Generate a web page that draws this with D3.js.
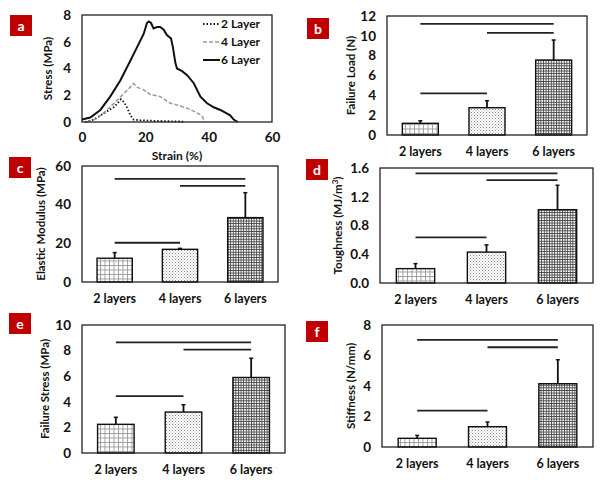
<!DOCTYPE html>
<html lang="en">
<head>
<meta charset="UTF-8">
<title>Layer mechanics</title>
<script src="https://d3js.org/d3.v7.min.js"></script>
<style>
  body { margin: 0; background: #fff; }
  text { font-family: Lato, "Open Sans", sans-serif; fill: #111; }
</style>
</head>
<body>
<script>
// ---- data ----
const categories = ["2 layers", "4 layers", "6 layers"];

// panel a: stress-strain curves [strain %, stress MPa]
const curve2 = [[1,0],[3.7,0.18],[6.8,0.63],[10,1.1],[11.6,1.5],[12.3,1.7],[13.2,1.5],[14.2,1.1],[15.3,0.5],[16.3,0.18],[18.4,0.13],[23.7,0.08],[32,0.03]];
const curve4 = [[1.6,0],[4.7,0.25],[7.9,0.9],[11,1.6],[13.7,2.25],[15.8,2.75],[16.3,2.88],[17.4,2.6],[19.5,2.4],[21.6,2.05],[24.7,1.9],[27.9,1.4],[31.1,1.2],[34.2,0.93],[37.4,0.55],[38.2,0.33],[38.6,0]];
const curve6 = [[0,0.18],[2.6,0.33],[5.8,0.9],[8.9,1.9],[12.1,3.1],[15.3,4.6],[17.4,5.6],[19.5,6.6],[20.5,7.4],[21.1,7.52],[21.8,7.4],[22.6,7.0],[23.7,7.1],[24.7,7.1],[25.8,6.9],[26.8,6.5],[28.1,6.25],[28.7,5.6],[29.5,4.4],[30,4.0],[31.6,3.8],[33.2,3.5],[35.3,2.9],[37.4,1.9],[39.5,1.4],[41.6,1.1],[43.7,0.9],[46.8,0.5],[47.9,0.18],[49.2,0]];
const curveNames = ["2 Layer", "4 Layer", "6 Layer"];
const strainTicks = [0, 20, 40, 60];
const stressTicks = [0, 2, 4, 6, 8];

// bar panels: means, upper error, significance bars [from, to, level]
const failureLoad = [1.18, 2.75, 7.56];
const failureLoadErr = [0.26, 0.71, 2.02];
const failureLoadSig = [[0, 2, 11.2], [1, 2, 10.3], [0, 1, 4.2]];

const elasticModulus = [12.3, 16.9, 33.3];
const elasticModulusErr = [2.9, 0.5, 12.9];
const elasticModulusSig = [[0, 2, 53.3], [1, 2, 49.7], [0, 1, 20.3]];

const toughness = [0.2, 0.43, 1.02];
const toughnessErr = [0.07, 0.1, 0.34];
const toughnessSig = [[0, 2, 1.525], [1, 2, 1.43], [0, 1, 0.635]];

const failureStress = [2.24, 3.2, 5.9];
const failureStressErr = [0.55, 0.57, 1.5];
const failureStressSig = [[0, 2, 8.65], [1, 2, 8.07], [0, 1, 4.45]];

const stiffness = [0.57, 1.33, 4.15];
const stiffnessErr = [0.19, 0.31, 1.57];
const stiffnessSig = [[0, 2, 7.03], [1, 2, 6.54], [0, 1, 2.38]];

// ---- svg ----
const svg = d3.select("body").append("svg")
    .attr("width", 600)
    .attr("height", 480);

const defs = svg.append("defs");

// fill patterns for the three layer counts
const p2 = defs.append("pattern").attr("id", "pat0")
    .attr("patternUnits", "userSpaceOnUse").attr("width", 4.5).attr("height", 4.5);
p2.append("rect").attr("width", 4.5).attr("height", 4.5).attr("fill", "#fff");
p2.append("path").attr("d", "M0,0.5H4.5M0.5,0V4.5").attr("stroke", "#999").attr("stroke-width", 0.9);

const p4 = defs.append("pattern").attr("id", "pat1")
    .attr("patternUnits", "userSpaceOnUse").attr("width", 3).attr("height", 3);
p4.append("rect").attr("width", 3).attr("height", 3).attr("fill", "#fff");
p4.append("rect").attr("x", 0).attr("y", 0).attr("width", 1).attr("height", 1).attr("fill", "#888");
p4.append("rect").attr("x", 1.5).attr("y", 1.5).attr("width", 1).attr("height", 1).attr("fill", "#aaa");

const p6 = defs.append("pattern").attr("id", "pat2")
    .attr("patternUnits", "userSpaceOnUse").attr("width", 2.6).attr("height", 2.6);
p6.append("rect").attr("width", 2.6).attr("height", 2.6).attr("fill", "#fff");
p6.append("path").attr("d", "M0,0.5H2.6M0.5,0V2.6").attr("stroke", "#444").attr("stroke-width", 0.9);

function panelLabel(letter, x, y) {
    svg.append("rect").attr("x", x).attr("y", y)
        .attr("width", 22).attr("height", 21).attr("fill", "#c00000");
    svg.append("text").attr("x", x + 11).attr("y", y + 15.5)
        .attr("text-anchor", "middle")
        .style("fill", "#fff").style("font-weight", 700).style("font-size", "14px")
        .text(letter);
}

function yAxisTitle(g, text, x, h, sup) {
    const t = g.append("text")
        .attr("transform", `translate(${x},${h / 2}) rotate(-90)`)
        .attr("text-anchor", "middle")
        .style("font-size", "11.5px").style("font-weight", 700)
        .text(text);
    if (sup) {
        t.append("tspan").attr("dy", -4).style("font-size", "8px").text(sup);
        t.append("tspan").attr("dy", 4).text(")");
    }
}

function frame(g, w, h) {
    g.append("rect").attr("width", w).attr("height", h)
        .attr("fill", "none").attr("stroke", "#222").attr("stroke-width", 1.3);
}

// ---- panel a ----
(function () {
    const m = { left: 82, top: 15, w: 190, h: 107 };
    const g = svg.append("g").attr("transform", `translate(${m.left},${m.top})`);
    const x = d3.scaleLinear().domain([0, 60]).range([0, m.w]);
    const y = d3.scaleLinear().domain([0, 8]).range([m.h, 0]);

    g.append("g").attr("transform", `translate(0,${m.h})`)
        .call(d3.axisBottom(x).tickValues(strainTicks).tickSize(0).tickPadding(10))
        .call(a => a.select(".domain").remove())
        .selectAll("text").style("font-size", "13.5px").style("font-weight", 700);
    g.append("g")
        .call(d3.axisLeft(y).tickValues(stressTicks).tickSize(0).tickPadding(11))
        .call(a => a.select(".domain").remove())
        .selectAll("text").style("font-size", "13.5px").style("font-weight", 700);

    const line = d3.line().x(d => x(d[0])).y(d => y(d[1]));
    const styles = [
        { stroke: "#111", dash: "1.5,2", width: 1.8 },
        { stroke: "#999", dash: "4,2", width: 1.5 },
        { stroke: "#111", dash: null, width: 2 }
    ];
    [curve2, curve4, curve6].forEach((c, i) => {
        g.append("path").datum(c).attr("d", line)
            .attr("fill", "none").attr("stroke", styles[i].stroke)
            .attr("stroke-width", styles[i].width)
            .attr("stroke-dasharray", styles[i].dash);
    });

    // legend
    curveNames.forEach((n, i) => {
        const ly = 9 + i * 18;
        g.append("line").attr("x1", 121).attr("x2", 138).attr("y1", ly).attr("y2", ly)
            .attr("stroke", styles[i].stroke).attr("stroke-width", styles[i].width)
            .attr("stroke-dasharray", styles[i].dash);
        g.append("text").attr("x", 139).attr("y", ly + 4)
            .style("font-size", "12px").style("font-weight", 700).text(n);
    });

    frame(g, m.w, m.h);
    yAxisTitle(g, "Stress (MPa)", -30, m.h);
    g.append("text").attr("x", 95).attr("y", m.h + 38)
        .attr("text-anchor", "middle")
        .style("font-size", "12px").style("font-weight", 700).text("Strain (%)");
    panelLabel("a", 10, 15);
})();

// ---- bar panels ----
function barPanel(cfg) {
    const g = svg.append("g").attr("transform", `translate(${cfg.left},${cfg.top})`);
    const x = d3.scaleBand().domain(categories).range([0, cfg.w])
        .paddingInner(0.46).paddingOuter(0.23);
    const y = d3.scaleLinear().domain([0, cfg.max]).range([cfg.h, 0]);

    g.append("g")
        .call(d3.axisLeft(y).tickValues(d3.range(0, cfg.max + cfg.step / 2, cfg.step))
            .tickFormat(cfg.fmt ? d3.format(cfg.fmt) : d3.format("d"))
            .tickSize(0).tickPadding(11))
        .call(a => a.select(".domain").remove())
        .selectAll("text").style("font-size", "13.5px").style("font-weight", 700);

    g.append("g").attr("transform", `translate(0,${cfg.h})`)
        .call(d3.axisBottom(x).tickSize(0).tickPadding(12))
        .call(a => a.select(".domain").remove())
        .selectAll("text").style("font-size", "12.5px").style("font-weight", 700);

    // error bars (upper only)
    g.selectAll(".err").data(cfg.values).enter().append("g")
        .each(function (d, i) {
            const cx = x(categories[i]) + x.bandwidth() / 2;
            const s = d3.select(this);
            s.append("line").attr("x1", cx).attr("x2", cx)
                .attr("y1", y(d)).attr("y2", y(d + cfg.err[i]))
                .attr("stroke", "#111").attr("stroke-width", 1.8);
            s.append("line").attr("x1", cx - 2).attr("x2", cx + 2)
                .attr("y1", y(d + cfg.err[i])).attr("y2", y(d + cfg.err[i]))
                .attr("stroke", "#111").attr("stroke-width", 1.5);
        });

    g.selectAll(".bar").data(cfg.values).enter().append("rect")
        .attr("x", (d, i) => x(categories[i]))
        .attr("y", d => y(d))
        .attr("width", x.bandwidth())
        .attr("height", d => cfg.h - y(d))
        .attr("fill", (d, i) => `url(#pat${i})`)
        .attr("stroke", "#111").attr("stroke-width", 1.4);

    // significance lines
    g.selectAll(".sig").data(cfg.sig).enter().append("line")
        .attr("x1", d => x(categories[d[0]]) + x.bandwidth() / 2)
        .attr("x2", d => x(categories[d[1]]) + x.bandwidth() / 2)
        .attr("y1", d => y(d[2])).attr("y2", d => y(d[2]))
        .attr("stroke", "#222").attr("stroke-width", 1.8);

    frame(g, cfg.w, cfg.h);
    yAxisTitle(g, cfg.title, cfg.titleX, cfg.h, cfg.sup);
    panelLabel(cfg.label, cfg.lx, cfg.ly);
}

barPanel({ label: "b", lx: 307, ly: 18, left: 387, top: 16, w: 200, h: 119,
    max: 12, step: 2, values: failureLoad, err: failureLoadErr, sig: failureLoadSig,
    title: "Failure Load (N)", titleX: -32 });

barPanel({ label: "c", lx: 9, ly: 157, left: 82, top: 166, w: 196, h: 116,
    max: 60, step: 20, values: elasticModulus, err: elasticModulusErr, sig: elasticModulusSig,
    title: "Elastic Modulus (MPa)", titleX: -37 });

barPanel({ label: "d", lx: 306, ly: 159, left: 380, top: 168, w: 213, h: 115,
    max: 1.6, step: 0.4, fmt: ".1f", values: toughness, err: toughnessErr, sig: toughnessSig,
    title: "Toughness (MJ/m", sup: "3", titleX: -38 });

barPanel({ label: "e", lx: 9, ly: 313, left: 82, top: 325, w: 203, h: 128,
    max: 10, step: 2, values: failureStress, err: failureStressErr, sig: failureStressSig,
    title: "Failure  Stress (MPa)", titleX: -33 });

barPanel({ label: "f", lx: 306, ly: 321, left: 382, top: 325, w: 211, h: 122,
    max: 8, step: 2, values: stiffness, err: stiffnessErr, sig: stiffnessSig,
    title: "Stiffness (N/mm)", titleX: -27 });
</script>
</body>
</html>
